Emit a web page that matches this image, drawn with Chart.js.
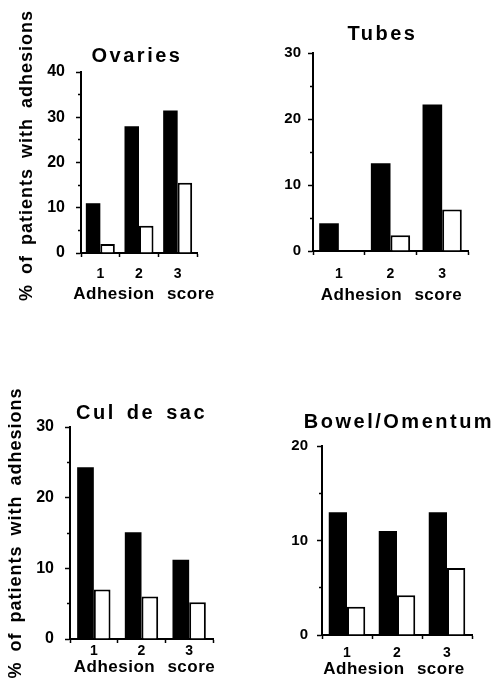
<!DOCTYPE html>
<html><head><meta charset="utf-8">
<script src="https://cdn.jsdelivr.net/npm/chart.js@4.4.1/dist/chart.umd.min.js"></script>
<style>
html,body{margin:0;padding:0;background:#fff;width:503px;height:684px;overflow:hidden;position:relative}
canvas{position:absolute}
</style></head><body>
<canvas id="c1" width="230" height="312" style="left:0px;top:0px"></canvas>
<canvas id="c2" width="258" height="306" style="left:230px;top:0px"></canvas>
<canvas id="c3" width="240" height="318" style="left:0px;top:360px"></canvas>
<canvas id="c4" width="252" height="320" style="left:250px;top:360px"></canvas>
<script>
// ---- data ----
const categories = ['1', '2', '3'];
const ovariesBlack = [11, 28, 31.5];
const ovariesWhite = [2, 6, 15.5];
const tubesBlack = [4.2, 13.3, 22.2];
const tubesWhite = [0, 2.4, 6.3];
const culBlack = [24.3, 15.1, 11.2];
const culWhite = [7, 6, 5.2];
const bowelBlack = [13, 11, 13];
const bowelWhite = [3, 4.2, 7.1];
const panelTitles = ['Ovaries', 'Tubes', 'Cul de sac', 'Bowel/Omentum'];
const yMaxValues = [40, 30, 30, 20];
const xAxisTitle = 'Adhesion score';
const yAxisTitle = '% of patients with adhesions';

const FONT = "'Liberation Sans', Arial, Helvetica, sans-serif";
Chart.defaults.color = '#000';
Chart.defaults.font.family = FONT;

const spacingPlugin = {
  id: 'spacing',
  beforeDraw(chart) {
    const ctx = chart.ctx;
    const o = chart.options.plugins.spacing || {};
    const t = chart.titleBlock;
    if (t && !t.__p) {
      const orig = t.draw;
      t.draw = function () {
        const l = this.left, r = this.right;
        const s = o.titleShift || 0;
        this.left = l - 100 + s; this.right = r + 100 + s;
        ctx.save();
        ctx.letterSpacing = '2.5px';
        ctx.wordSpacing = '3px';
        orig.call(this);
        ctx.restore();
        this.left = l; this.right = r;
      };
      t.__p = true;
    }
    Object.values(chart.scales).forEach(sc => {
      if (sc.__p) return;
      const orig = sc.drawTitle;
      sc.drawTitle = function () {
        const horiz = this.isHorizontal();
        const saved = {left: this.left, right: this.right, top: this.top, bottom: this.bottom};
        ctx.save();
        if (horiz) {
          const s = o.xTitleShift || 0;
          this.left -= 80 - s; this.right += 80 + s;
          ctx.letterSpacing = '0.5px';
          ctx.wordSpacing = '7px';
        } else {
          const s = o.yTitleShift || 0;
          this.top -= 150 - s; this.bottom += 150 + s;
          ctx.letterSpacing = '1px';
          ctx.wordSpacing = '4px';
        }
        orig.call(this);
        ctx.restore();
        Object.assign(this, saved);
      };
      sc.__p = true;
    });
  }
};

function makePanel(id, title, black, white, yMax, L) {
  const ctx = document.getElementById(id);
  return new Chart(ctx, {
    type: 'bar',
    data: {
      labels: categories,
      datasets: [
        {data: black, backgroundColor: '#000', borderColor: '#000', borderWidth: 0,
         categoryPercentage: L.catPct, barPercentage: 1.0},
        {data: white, backgroundColor: '#fff', borderColor: '#000', borderWidth: 2,
         categoryPercentage: L.catPct, barPercentage: 1.0}
      ]
    },
    options: {
      responsive: false,
      animation: false,
      devicePixelRatio: 1,
      events: [],
      layout: {padding: {left: 0, top: 0, right: L.padRight, bottom: L.padBottom}},
      plugins: {
        legend: {display: false},
        tooltip: {enabled: false},
        title: {
          display: true, text: title, fullSize: false,
          color: '#000',
          font: {family: FONT, size: 20, weight: 'bold', lineHeight: 1.2},
          padding: {top: L.titleTop, bottom: L.titleBottom}
        },
        spacing: {titleShift: L.titleShift, xTitleShift: L.xTitleShift, yTitleShift: L.yTitleShift}
      },
      scales: {
        x: {
          type: 'category',
          grid: {display: true, drawOnChartArea: false, drawTicks: true, tickLength: 4,
                 tickColor: '#000', tickWidth: 1.5, offset: true},
          border: {display: true, color: '#000', width: 2},
          ticks: {font: {family: FONT, size: 14, weight: 'bold'}, padding: L.xTickPad, color: '#000',
                  maxRotation: 0},
          title: {display: true, text: xAxisTitle, color: '#000',
                  font: {family: FONT, size: 17, weight: 'bold', lineHeight: 1.2},
                  padding: {top: 0, bottom: 0}},
          afterFit: (s) => { s.height = L.xH; }
        },
        y: {
          min: 0, max: yMax,
          grid: {display: true, drawOnChartArea: false, drawTicks: true, tickLength: 5,
                 tickColor: '#000', tickWidth: 1.5,
                 tickBorderDash: (c) => (c.tick && c.tick.value % 10 !== 0) ? [2, 2] : [],
                 tickBorderDashOffset: (c) => (c.tick && c.tick.value % 10 !== 0) ? 2 : 0},
          border: {display: true, color: '#000', width: 2},
          ticks: {stepSize: 5, autoSkip: false, padding: L.yTickPad, color: '#000',
                  font: {family: FONT, size: L.yTickSize, weight: 'bold'},
                  callback: (v) => (v % 10 === 0 ? String(v) : '')},
          title: {display: L.showYTitle, text: yAxisTitle, color: '#000',
                  font: {family: FONT, size: 18, weight: 'bold', lineHeight: 1.2},
                  padding: {top: L.yTitlePad, bottom: 0}},
          afterFit: (s) => { s.width = L.yW; }
        }
      }
    },
    plugins: [spacingPlugin]
  });
}

makePanel('c1', panelTitles[0], ovariesBlack, ovariesWhite, yMaxValues[0], {
  padRight: 33, padBottom: 7, yW: 81, titleTop: 44, titleBottom: 4, xH: 52, xTickPad: 9,
  yTickPad: 11, yTickSize: 16, showYTitle: true, yTitlePad: 16, catPct: 0.75,
  titleShift: -2, xTitleShift: 5, yTitleShift: -7
});
makePanel('c2', panelTitles[1], tubesBlack, tubesWhite, yMaxValues[1], {
  padRight: 20, padBottom: 0, yW: 83, titleTop: 22, titleBottom: 7, xH: 55, xTickPad: 11,
  yTickPad: 7, yTickSize: 15, showYTitle: false, yTitlePad: 0, catPct: 0.76,
  titleShift: -8, xTitleShift: 1, yTitleShift: 0
});
makePanel('c3', panelTitles[2], culBlack, culWhite, yMaxValues[2], {
  padRight: 27, padBottom: 0, yW: 70, titleTop: 41, titleBottom: 2, xH: 39, xTickPad: 0,
  yTickPad: 11, yTickSize: 16, showYTitle: true, yTitlePad: 5, catPct: 0.7,
  titleShift: 0, xTitleShift: 3, yTitleShift: 0
});
makePanel('c4', panelTitles[3], bowelBlack, bowelWhite, yMaxValues[3], {
  padRight: 30, padBottom: 0, yW: 72, titleTop: 50, titleBottom: 12, xH: 45, xTickPad: 6,
  yTickPad: 9, yTickSize: 15, showYTitle: false, yTitlePad: 0, catPct: 0.73,
  titleShift: 2, xTitleShift: -3, yTitleShift: 0
});
</script>
</body></html>
